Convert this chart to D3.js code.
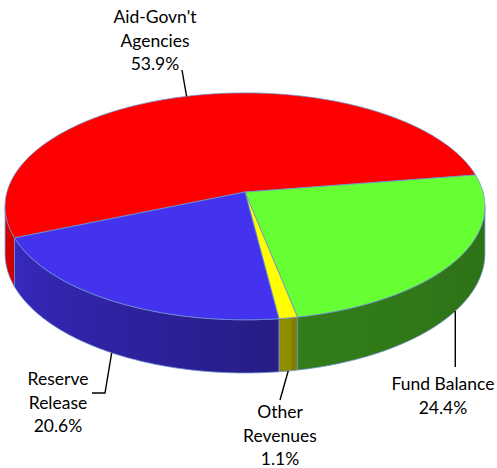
<!DOCTYPE html>
<html>
<head>
<meta charset="utf-8">
<script src="https://cdn.jsdelivr.net/npm/d3@7"></script>
<style>
  html, body { margin: 0; padding: 0; background: #fff; }
  svg { display: block; }
  text { font-family: Lato, "Open Sans", sans-serif; font-size: 17.5px; fill: #000; }
</style>
</head>
<body>
<svg id="chart" width="497" height="468"></svg>
<script>
// Revenue sources (percent of total)
const categories = ["Aid-Govn't Agencies", "Fund Balance", "Other Revenues", "Reserve Release"];
const values = [53.9, 24.4, 1.1, 20.6];
const labelLines = [["Aid-Govn't", "Agencies"], ["Fund Balance"], ["Other", "Revenues"], ["Reserve", "Release"]];
const sliceColors = ["#FF0000", "#66FF33", "#FFFF00", "#4433EE"];

const svg = d3.select("#chart");
const defs = svg.append("defs");

// Perspective view of a tilted disc (unit radius)
const cx = 245, cy = 192;         // screen position of the disc centre
const K = 1880, D = 7.9;          // focal scale and camera distance
const sinT = 0.469, cosT = 0.883; // view tilt
const thick = 0.221;              // disc thickness

function project(theta, bottom) {
  const x = Math.sin(theta), z = -Math.cos(theta);
  const g = K / (D - z);
  return [cx + x * g, cy + z * sinT * g + (bottom ? thick * cosT * g : 0)];
}

const deg = Math.PI / 180;
const start = 247 * deg;
const pie = d3.pie().sort(null).value(d => d).startAngle(start).endAngle(start + 2 * Math.PI);
const arcs = pie(values).map((a, i) => ({ ...a, i }));

// silhouette of the outer wall: cos(theta) = -1/D
const silA = Math.acos(-1 / D);   // right side
const silB = 2 * Math.PI - silA;  // left side

// wall shading: dark on the right, brightening toward the left
function shade(theta) {
  const d = theta / deg;
  return d <= 170 ? 0.44 + 0.05 * (d - 97) / 73 : 0.55 + 0.3 * Math.min(1, (d - 170) / 93);
}

const walls = svg.append("g");
const tops = svg.append("g");
const edge = "#6F8FCB";

arcs.forEach(a => {
  // outer wall, visible front part only
  const segs = [];
  for (const off of [0, 2 * Math.PI, -2 * Math.PI]) {
    const lo = Math.max(a.startAngle + off, silA), hi = Math.min(a.endAngle + off, silB);
    if (hi > lo) segs.push([lo, hi]);
  }
  const base = d3.rgb(sliceColors[a.i]);
  segs.forEach(([lo, hi], si) => {
    const n = Math.max(2, Math.ceil((hi - lo) / (0.5 * deg)));
    const step = (hi - lo) / n;
    const xs = [];
    for (let k = 0; k <= n; k++) xs.push(project(lo + k * step, false)[0]);
    const x1 = Math.min(...xs), x2 = Math.max(...xs);
    const id = "wall-" + a.i + "-" + si;
    const grad = defs.append("linearGradient").attr("id", id)
      .attr("gradientUnits", "userSpaceOnUse")
      .attr("x1", x1).attr("x2", x2).attr("y1", 0).attr("y2", 0);
    const stops = [];
    for (let k = 0; k <= n; k += Math.max(1, Math.floor(n / 24))) stops.push(k);
    if (stops[stops.length - 1] !== n) stops.push(n);
    stops.map(k => {
      const f = shade(lo + k * step);
      return { off: (xs[k] - x1) / Math.max(1e-6, x2 - x1), c: d3.rgb(base.r * f, base.g * f, base.b * f).formatHex() };
    }).sort((p, q) => p.off - q.off)
      .forEach(s => grad.append("stop").attr("offset", s.off).attr("stop-color", s.c));

    const pathPts = [];
    for (let k = 0; k <= n; k++) pathPts.push(project(lo + k * step, false));
    for (let k = n; k >= 0; k--) pathPts.push(project(lo + k * step, true));
    walls.append("path").attr("d", "M" + pathPts.join("L") + "Z")
      .attr("fill", `url(#${id})`).attr("stroke", edge).attr("stroke-width", 0.8);
  });

  // top face
  const n = Math.max(2, Math.ceil((a.endAngle - a.startAngle) / (0.5 * deg)));
  const pts = [[cx, cy]];
  for (let k = 0; k <= n; k++) pts.push(project(a.startAngle + (a.endAngle - a.startAngle) * k / n, false));
  tops.append("path").attr("d", "M" + pts.join("L") + "Z")
    .attr("fill", sliceColors[a.i]).attr("stroke", edge).attr("stroke-width", 0.8)
    .attr("stroke-linejoin", "round");
});

// data labels with leader lines
const fmt = v => v.toFixed(1) + "%";
const labelLayout = [
  { x: 155, y: 23, path: a => [[182, 70], a] },
  { x: 443, y: 390, path: a => [a, [a[0], 367]] },
  { x: 280, y: 418, path: a => [a, [280, 400]] },
  { x: 58, y: 385, path: a => [a, [105, 393], [92, 393]] }
];
const lineH = 23.5;
arcs.forEach(a => {
  const L = labelLayout[a.i];
  const mid = (a.startAngle + a.endAngle) / 2;
  const m = ((mid % (2 * Math.PI)) + 2 * Math.PI) % (2 * Math.PI);
  const onWall = m > silA && m < silB;
  const anchor = project(mid, onWall);
  svg.append("path").attr("d", "M" + L.path(anchor).join("L"))
    .attr("fill", "none").attr("stroke", "#000").attr("stroke-width", 1.4);
  const lines = labelLines[a.i].concat([fmt(a.data)]);
  const t = svg.append("text").attr("text-anchor", "middle");
  lines.forEach((s, j) => t.append("tspan").attr("x", L.x).attr("y", L.y + j * lineH).text(s));
});
</script>
</body>
</html>
